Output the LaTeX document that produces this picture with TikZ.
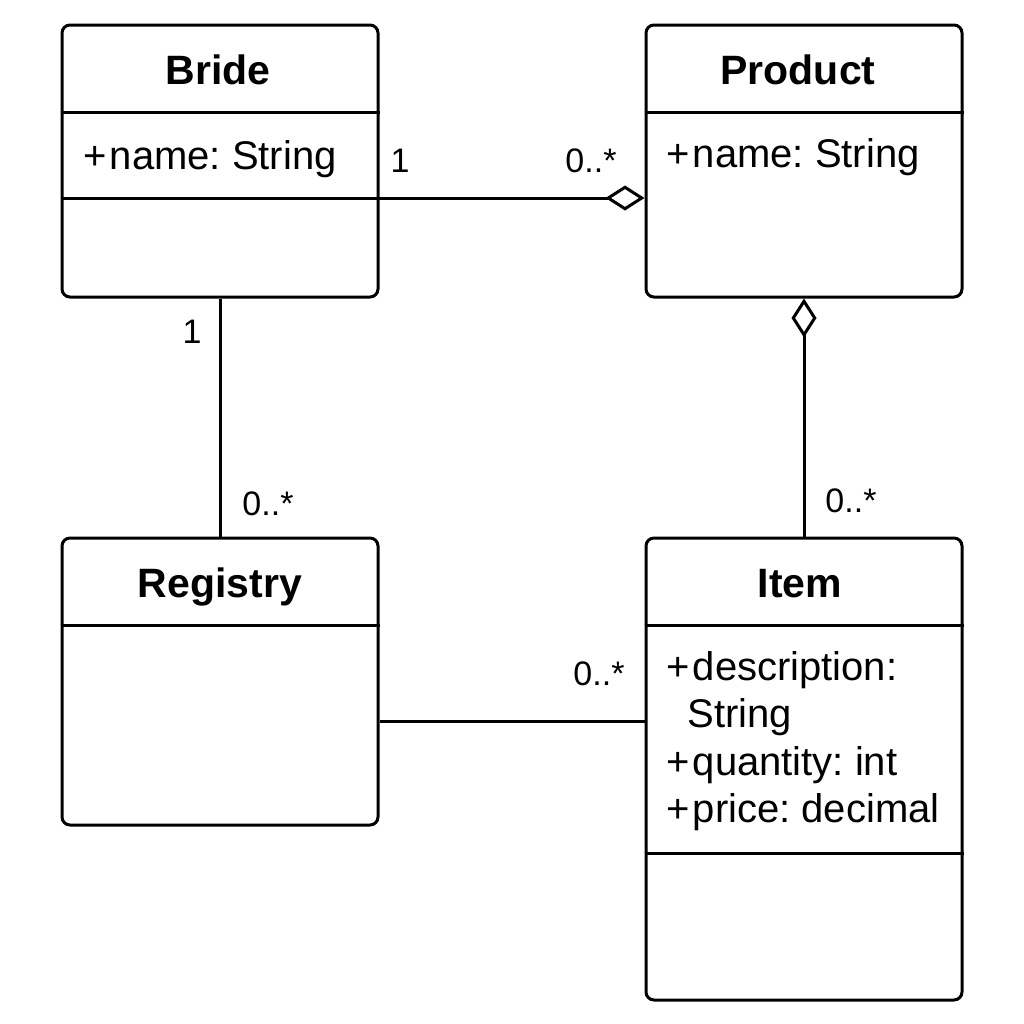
\documentclass[tikz,border=0pt]{standalone}
\usepackage{fontspec}
\setmainfont{Liberation Sans}
\frenchspacing
\usetikzlibrary{arrows.meta,calc}
\tikzset{
  classbox/.style={draw, line width=1.5pt, rounded corners=4pt, minimum width=158pt, inner sep=0pt},
  divider/.style={line width=1.5pt},
  title/.style={font=\fontsize{20.5}{24}\selectfont\bfseries, inner sep=0pt, anchor=base},
  attr/.style={font=\fontsize{20}{24}\selectfont, anchor=base west, inner sep=0pt},
  mult/.style={font=\fontsize{17}{20}\selectfont, inner sep=0pt, anchor=base},
  assoc/.style={line width=1.5pt},
  agg/.style={line width=1.5pt, {Diamond[open, length=19.5pt, width=12.5pt, line width=1.5pt]}-}
}
\begin{document}
\begin{tikzpicture}[x=0.5pt, y=-0.5pt]
\useasboundingbox[fill=white] (0,0) rectangle (1024,1024);
% classes
\node[classbox, minimum height=136pt] (bride) at (220,161) {};
\node[classbox, minimum height=136pt] (product) at (804,161) {};
\node[classbox, minimum height=143.5pt] (registry) at (220,681.5) {};
\node[classbox, minimum height=231pt] (item) at (804,769) {};
% dividers
\draw[divider] (bride.west |- 0,112) -- (bride.east |- 0,112);
\draw[divider] (bride.west |- 0,198) -- (bride.east |- 0,198);
\draw[divider] (product.west |- 0,112) -- (product.east |- 0,112);
\draw[divider] (registry.west |- 0,625) -- (registry.east |- 0,625);
\draw[divider] (item.west |- 0,625) -- (item.east |- 0,625);
\draw[divider] (item.west |- 0,853) -- (item.east |- 0,853);
% titles
\node[title] (tbride) at (218,84) {Bride};
\node[title] (tproduct) at (798,84) {Product};
\node[title] (tregistry) at (220,597) {Registry};
\node[title] (titem) at (800,597) {Item};
% attributes
\node[attr] (abride) at (83,169) {+\kern1.5pt name: String};
\node[attr] (aproduct) at (666,167) {+\kern1.5pt name: String};
\node[attr] (aitem1) at (666,680) {+\kern1.5pt description:};
\node[attr] (aitem2) at (687,727) {String};
\node[attr] (aitem3) at (666,775) {+\kern1.5pt quantity: int};
\node[attr] (aitem4) at (666,822) {+\kern1.5pt price: decimal};
% connectors
\draw[agg] (product.west |- 0,198) -- (bride.east |- 0,198);
\draw[assoc] (bride.south) -- (registry.north);
\draw[agg] (product.south) -- (item.north);
\draw[assoc] (registry.east |- 0,721) -- (item.west |- 0,721);
% multiplicities
\node[mult] (m1) at (400,172) {1};
\node[mult] (m2) at (591,172) {0..*};
\node[mult] (m3) at (192,343) {1};
\node[mult] (m4) at (268,515) {0..*};
\node[mult] (m5) at (851,512) {0..*};
\node[mult] (m6) at (599,685) {0..*};
\end{tikzpicture}
\end{document}
